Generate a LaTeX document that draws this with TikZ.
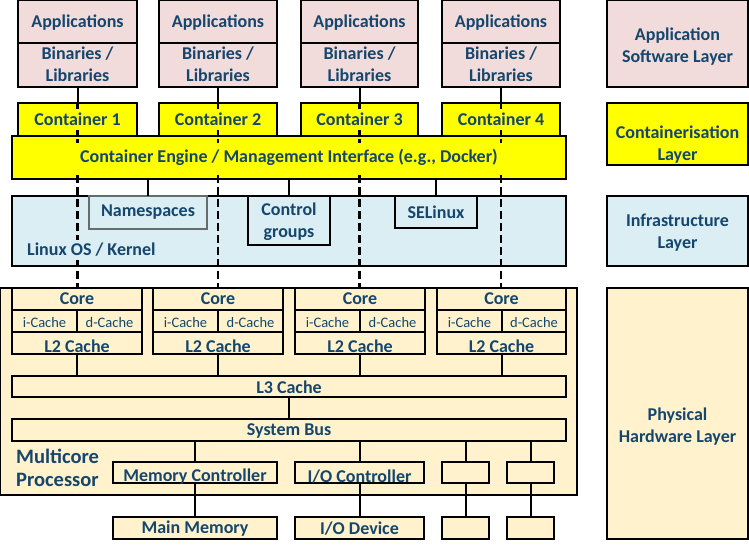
\documentclass[tikz,border=0pt]{standalone}
\usepackage{fontspec}
\setmainfont{Carlito}
\usetikzlibrary{fit}
\definecolor{txt}{RGB}{20,70,110}
\definecolor{pinkf}{RGB}{242,220,219}
\definecolor{yel}{RGB}{255,255,0}
\definecolor{lblue}{RGB}{219,238,244}
\definecolor{beige}{RGB}{255,242,204}
\definecolor{grayb}{RGB}{100,108,110}
\newcommand\bx[6]{\node[box,fill=#2,fit={(#3,#4)(#5,#6)}] (#1) {};}
\begin{document}
\begin{tikzpicture}[x=1pt,y=-1pt,
  box/.style={draw=black,line width=1.5pt,inner sep=0pt,outer sep=0pt},
  lbl/.style={text=txt,font=\bfseries\fontsize{18}{22}\selectfont,align=center,inner sep=1pt},
  sml/.style={text=txt,font=\fontsize{14.5}{16}\selectfont,inner sep=0pt},
  big/.style={text=txt,font=\bfseries\fontsize{20.5}{22.5}\selectfont,align=left,inner sep=0pt},
  conn/.style={draw=black,line width=2pt},
  dconn/.style={draw=black,line width=2.2pt,dash pattern=on 8pt off 4pt}]
\useasboundingbox (0,0) rectangle (749,550);
% ---------- boxes ----------
\foreach \i/\l/\r in {1/18/137,2/159/277,3/301/418,4/442/560}{
  \bx{a\i}{pinkf}{\l}{0.7}{\r}{43}
  \bx{b\i}{pinkf}{\l}{43}{\r}{87}
  \bx{c\i}{yel}{\l}{103}{\r}{136}
}
\bx{eng}{yel}{12}{136}{566}{179}
\bx{kern}{lblue}{12}{196}{566}{266}
\node[box,draw=grayb,fill=lblue,fit={(89,196)(207,229)}] (ns) {};
\bx{cg}{lblue}{248}{196}{330}{245}
\bx{se}{lblue}{395}{196}{477}{228}
\bx{mcp}{beige}{0.7}{288}{577}{495}
\foreach \i/\l/\r/\m in {1/12/142/77,2/153/283/218,3/295/425/360,4/437/566/502}{
  \bx{core\i}{beige}{\l}{288}{\r}{310}
  \bx{ic\i}{beige}{\l}{310}{\m}{332}
  \bx{dc\i}{beige}{\m}{310}{\r}{332}
  \bx{ltwo\i}{beige}{\l}{332}{\r}{354}
}
\bx{lthree}{beige}{12}{376}{566}{397}
\bx{bus}{beige}{12}{419}{566}{441}
\bx{mc}{beige}{113}{462}{277}{483}
\bx{ioc}{beige}{295}{462}{424}{483}
\bx{sa}{beige}{442}{462}{489}{483}
\bx{sb}{beige}{507}{462}{554}{483}
\bx{mm}{beige}{113}{517}{277}{539}
\bx{iod}{beige}{295}{517}{424}{539}
\bx{sc}{beige}{442}{517}{489}{539}
\bx{sd}{beige}{507}{517}{554}{539}
% right column
\bx{Lapp}{pinkf}{607}{0.7}{748}{87}
\bx{Lcon}{yel}{607}{103}{748}{165}
\bx{Linf}{lblue}{607}{196}{748}{266}
\bx{Lphy}{beige}{607}{288}{748}{539}
% ---------- connectors ----------
\foreach \i in {1,2,3,4}{
  \draw[conn] (b\i.south) -- (c\i.north);
  \draw[dconn] (c\i.north) -- (c\i.north |- core\i.north);
  \draw[conn] (ltwo\i.south) -- (ltwo\i.south |- lthree.north);
}
\draw[conn] (eng.south -| ns.north) -- (ns.north);
\draw[conn] (eng.south -| cg.north) -- (cg.north);
\draw[conn] (eng.south -| se.north) -- (se.north);
\draw[conn] (lthree.south) -- (bus.north);
\foreach \n/\m in {mc/mm,ioc/iod,sa/sc,sb/sd}{
  \draw[conn] (bus.south -| \n.north) -- (\n.north);
  \draw[conn] (\n.south) -- (\m.north);
}
% ---------- labels ----------
\foreach \i in {1,2,3,4}{
  \node[lbl] at ([yshift=-1pt]a\i.center) {Applications};
  \node[lbl] at ([yshift=1pt]b\i.center) {Binaries /\\Libraries};
  \node[lbl,fill=yel,minimum height=21pt] at (c\i.center) {Container \i};
  \node[lbl] at (core\i.center) {Core};
  \node[sml] at ([yshift=-2pt]ic\i.center) {i-Cache};
  \node[sml] at ([yshift=-2pt]dc\i.center) {d-Cache};
  \node[lbl] at ([yshift=-3pt]ltwo\i.center) {L2 Cache};
}
\node[lbl,fill=yel,minimum width=540pt,minimum height=30pt] at (eng.center) {Container Engine / Management Interface (e.g., Docker)};
\node[lbl] at (ns.center) {Namespaces};
\node[lbl] at ([yshift=-1.5pt]cg.center) {Control\\groups};
\node[lbl] at (se.center) {SELinux};
\node[lbl,anchor=west,fill=lblue,minimum height=20pt] (lk) at (26,250) {Linux OS / Kernel};
\node[lbl] at ([yshift=-0.5pt]lthree.center) {L3 Cache};
\node[lbl] at ([yshift=-1pt]bus.center) {System Bus};
\node[lbl] at ([yshift=-4pt]mc.center) {Memory Controller};
\node[lbl] at ([yshift=-4pt]ioc.center) {I/O Controller};
\node[lbl] at ([yshift=-1pt]mm.center) {Main Memory};
\node[lbl] at ([yshift=-1pt]iod.center) {I/O Device};
\node[big,anchor=west] (mcl) at (16,468) {Multicore\\Processor};
\node[lbl] at ([yshift=-2.5pt]Lapp.center) {Application\\Software Layer};
\node[lbl] at ([yshift=-11pt]Lcon.center) {Containerisation\\Layer};
\node[lbl] at ([yshift=-2pt]Linf.center) {Infrastructure\\Layer};
\node[lbl] at ([yshift=-13.5pt]Lphy.center) {Physical\\Hardware Layer};
\end{tikzpicture}
\end{document}
